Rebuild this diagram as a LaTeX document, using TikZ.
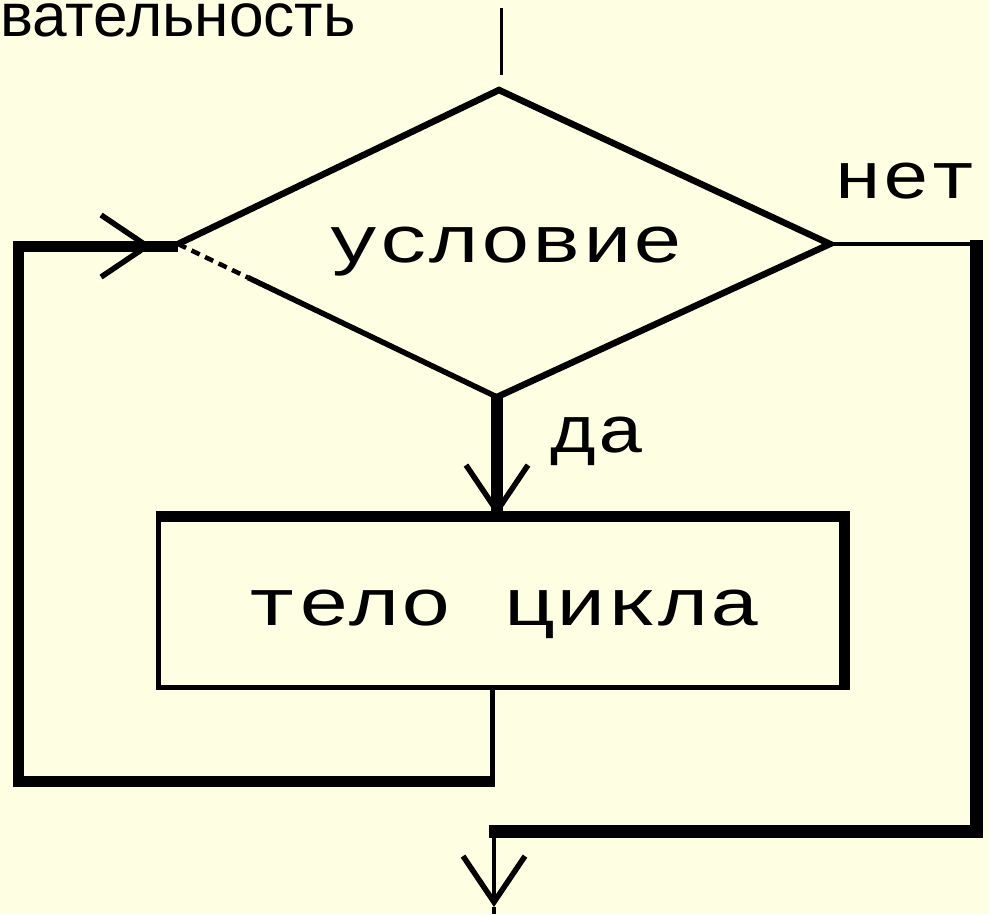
\documentclass[tikz,border=0pt]{standalone}
\usepackage{fontspec}
\usepackage{graphicx}
\setmainfont{Liberation Sans}
\newfontfamily\flowmono{Liberation Mono}
\usetikzlibrary{arrows.meta,calc}
\definecolor{bgc}{RGB}{254,254,226}
\newcommand{\hstr}[2]{\scalebox{#1}[1]{#2}}
\begin{document}
\begin{tikzpicture}[x=1pt,y=-1pt,
  thinln/.style={line width=4.5pt},
  thickln/.style={line width=12pt},
  barb/.style={-{Straight Barb[length=46pt,width=62pt,line width=5.5pt]}},
  lbl/.style={font=\flowmono\fontsize{66}{66}\selectfont, inner sep=0pt, anchor=base}]
\fill[bgc] (0,0) rectangle (989,914);
\useasboundingbox (0,0) rectangle (989,914);
% heading fragment
\node[anchor=base west, inner sep=0pt, font=\fontsize{61}{61}\selectfont] (head) at (0,36) {\hstr{1.02}{вательность}};
% diamond
\coordinate (dt) at (499,90);
\coordinate (dl) at (178,244);
\coordinate (dr) at (830,244);
\coordinate (db) at (497,397);
\coordinate (topin) at (501,8);
\coordinate (topend) at (501,75);
\draw[line width=3pt] (topin) -- (topend);
\draw[line width=6.5pt, line join=miter] (dl) -- (dt) -- (dr) -- (db);
\coordinate (dm) at ($(dl)!0.22!(db)$);
\draw[line width=4.5pt, dash pattern=on 9pt off 6pt] (dl) -- (dm);
\draw[line width=5.5pt] (dm) -- (db);
\node[lbl] (cond) at (506,262) {\hstr{1.28}{условие}};
% body box
\node[draw, line width=5pt, outer sep=0pt, inner sep=0pt, minimum width=686pt, minimum height=171pt] (body) at (501,601.5) {};
\draw[line width=11pt] ([xshift=-2.5pt]body.north west) -- (body.north east) -- ([yshift=-2.5pt]body.south east);
\node[lbl] (bodytxt) at (504,625) {\hstr{1.3}{тело цикла}};
% yes arrow
\draw[line width=12pt] (db) -- (db |- body.north);
\draw[line width=4pt, barb] (db) -- (db |- body.north);
\node[lbl] (yes) at (598,452) {\hstr{1.2}{да}};
% no label
\node[lbl] (no) at (906,198) {\hstr{1.2}{нет}};
% loop back
\coordinate (lp0) at (492,781);
\coordinate (lp1) at (495,781);
\coordinate (lp2) at (18,246);
\coordinate (lp3) at (178,246);
\coordinate (arrL) at (152,246);
\draw[line width=5pt] (lp0 |- body.south) -- (lp0);
\draw[line width=11pt, line join=miter] (lp1) -| (lp2) -- (lp3);
\draw[line width=4pt, barb] (lp2) -- (arrL);
% exit
\coordinate (rc1) at (976,240);
\coordinate (rc2) at (976,831);
\coordinate (rb0) at (489,831);
\coordinate (rb) at (494,831);
\coordinate (bTip) at (494,907);
\coordinate (bEnd) at (494,914);
\draw[thinln] (dr) -- (rc1 |- dr);
\draw[line width=13pt, line join=miter] (rc1) -- (rc2) -- (rb0);
\draw[thinln, barb] (rb) -- (bTip);
\draw[thinln] (bTip) -- (bEnd);
\end{tikzpicture}
\end{document}
